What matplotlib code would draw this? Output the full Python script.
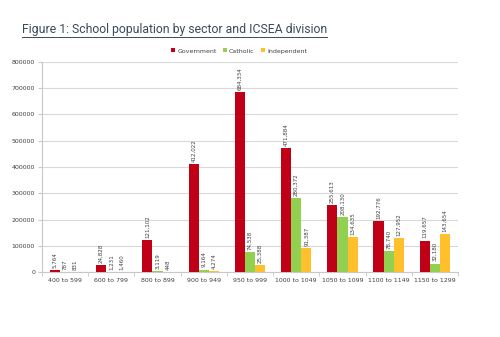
import matplotlib
matplotlib.use("Agg")
import matplotlib.pyplot as plt
import numpy as np

categories = ["400 to 599", "600 to 799", "800 to 899", "900 to 949", "950 to 999",
              "1000 to 1049", "1050 to 1099", "1100 to 1149", "1150 to 1299"]
government = [5764, 24828, 121102, 412022, 684334, 471884, 255613, 192776, 119657]
catholic = [787, 1231, 3119, 9164, 74538, 280372, 208130, 78740, 32180]
independent = [831, 1460, 448, 4274, 25388, 91387, 134635, 127952, 143654]
series_names = ["Government", "Catholic", "Independent"]
colors = ["#C00016", "#92D050", "#FFC02B"]

fig = plt.figure(figsize=(5, 3.37), dpi=100)
ax = fig.add_axes([42/500, 1-272/337, (458-42)/500, (272-62)/337])

x = np.arange(len(categories))
w = 0.22
for i, (vals, name, c) in enumerate(zip([government, catholic, independent], series_names, colors)):
    pos = x + (i - 1) * w
    ax.bar(pos, vals, width=w, color=c, label=name, zorder=3)
    for p, v in zip(pos, vals):
        ax.text(p, v + 8000, f"{v:,}", rotation=90, ha="center", va="bottom",
                fontsize=4, color="#404040")

ax.set_ylim(0, 800000)
ax.set_yticks(np.arange(0, 800001, 100000))
ax.set_yticklabels([str(v) for v in range(0, 800001, 100000)], fontsize=4.5, color="#404040")
ax.set_xlim(-0.5, len(categories) - 0.5)
ax.set_xticks(x)
ax.set_xticklabels(categories, fontsize=4.5, color="#404040")
ax.set_xticks(np.arange(-0.5, len(categories), 1), minor=True)
ax.tick_params(axis="x", which="major", length=0, pad=4)
ax.tick_params(axis="x", which="minor", length=3, color="#c8c8c8")
ax.tick_params(axis="y", length=3, color="#c8c8c8", pad=2)
ax.grid(axis="y", color="#d9d9d9", linewidth=0.8, zorder=0)
for s in ["top", "right"]:
    ax.spines[s].set_visible(False)
for s in ["left", "bottom"]:
    ax.spines[s].set_color("#c8c8c8")
    ax.spines[s].set_linewidth(0.8)

leg = fig.legend(loc="center", bbox_to_anchor=(239/500, 1-51/337), ncol=3, fontsize=4.5,
                 frameon=False, handlelength=0.6, handleheight=0.6, columnspacing=1.0,
                 handletextpad=0.4)
for t in leg.get_texts():
    t.set_color("#404040")

fig.text(22/500, 1-30/337, "Figure 1: School population by sector and ICSEA division",
         fontsize=8.8, color="#3b4a5c", family=["Liberation Sans Narrow", "Roboto"],
         ha="left", va="center")
fig.add_artist(plt.Line2D([22/500, 327/500], [1-36.5/337, 1-36.5/337], color="#3b4a5c", linewidth=0.7))

fig.savefig("out.png", dpi=100, facecolor="white")
